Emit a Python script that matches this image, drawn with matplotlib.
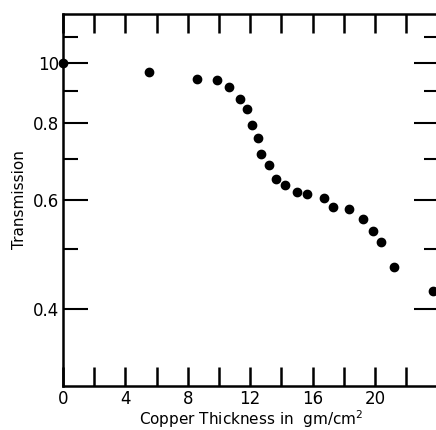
import matplotlib
matplotlib.use('Agg')
import matplotlib.pyplot as plt
from matplotlib.ticker import FixedLocator, NullFormatter

# copper thickness (gm/cm^2) and transmission
thickness = [0.0, 5.5, 8.6, 9.85, 10.66, 11.33, 11.77, 12.14, 12.52, 12.71,
             13.23, 13.65, 14.23, 15.0, 15.62, 16.71, 17.33, 18.31, 19.23,
             19.9, 20.4, 21.2, 23.7]
transmission = [1.0, 0.965, 0.943, 0.937, 0.915, 0.873, 0.842, 0.793, 0.756,
                0.711, 0.684, 0.649, 0.635, 0.618, 0.614, 0.605, 0.585, 0.580,
                0.559, 0.534, 0.514, 0.468, 0.428]

x_ticks = [0, 2, 4, 6, 8, 10, 12, 14, 16, 18, 20, 22]
x_labels = ['0', '', '4', '', '8', '', '12', '', '16', '', '20', '']
y_major = [0.4, 0.6, 0.8, 1.0]
y_major_labels = ['0.4', '0.6', '0.8', '10']
y_minor = [0.5, 0.7, 0.9, 1.1]

plt.rcParams['font.family'] = 'DejaVu Sans'

fig = plt.figure(figsize=(4.36, 4.30), dpi=100)
ax = fig.add_axes([63 / 436, 44 / 430, 376 / 436, 372 / 430])

ax.plot(thickness, transmission, 'o', color='black', ms=6, clip_on=False,
        zorder=5)

ax.set_yscale('log')
ax.set_xlim(0, 24.1)
ax.set_ylim(0.3, 1.2)

ax.set_xticks(x_ticks)
ax.set_xticklabels(x_labels, fontsize=12)
ax.yaxis.set_major_locator(FixedLocator(y_major))
ax.set_yticklabels(y_major_labels, fontsize=12)
ax.yaxis.set_minor_locator(FixedLocator(y_minor))
ax.yaxis.set_minor_formatter(NullFormatter())

ax.tick_params(axis='x', which='major', direction='in', length=14, width=1.8,
               top=True, bottom=True, pad=3)
ax.tick_params(axis='y', which='major', direction='in', length=18, width=1.5,
               left=True, right=True, pad=3)
ax.tick_params(axis='y', which='minor', direction='in', length=11, width=1.5,
               left=True, right=True)

for s in ax.spines.values():
    s.set_linewidth(1.8)

ax.set_xlabel('Copper Thickness in  gm/cm$^2$', fontsize=11, labelpad=0)
ax.set_ylabel('Transmission', fontsize=11, labelpad=4)

fig.savefig('out.png', dpi=100)
